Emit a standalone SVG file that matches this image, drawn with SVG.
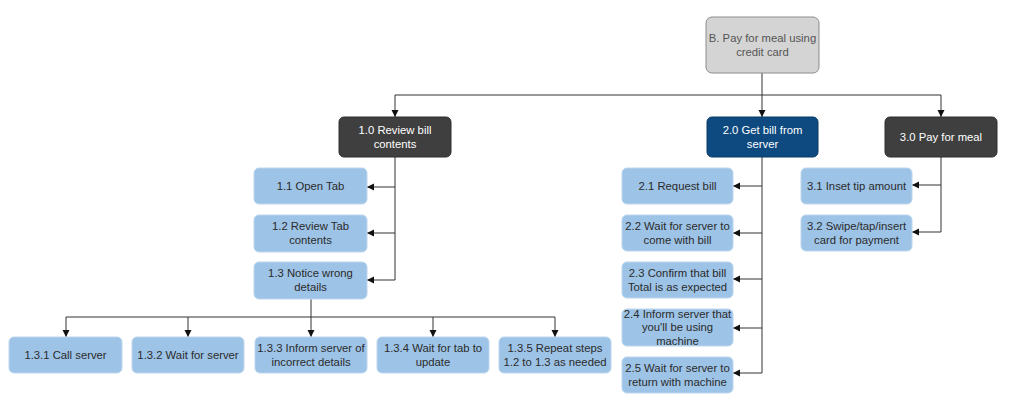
<svg xmlns="http://www.w3.org/2000/svg" width="1010" height="410" viewBox="0 0 1010 410">
<defs>
<marker id="arr" markerUnits="userSpaceOnUse" markerWidth="8" markerHeight="8" refX="7" refY="3.5" orient="auto">
<path d="M0,0 L7,3.5 L0,7 z" fill="#111"/>
</marker>
<style>
text{font-family:"Liberation Sans",Arial,sans-serif;font-size:11.3px;text-anchor:middle}
.lb rect{fill:#9dc3e6;stroke:#bcd6ee;stroke-width:1}
.lb text{fill:#2b2b2b}
.dk rect{fill:#3f3f3f;stroke:#2e2e2e;stroke-width:1}
.bl rect{fill:#0e4a80;stroke:#0a3a66;stroke-width:1}
.dk text,.bl text{fill:#fff}
.rt rect{fill:#d4d4d4;stroke:#8c8c8c;stroke-width:1}
.rt text{fill:#555}
#connectors path{fill:none;stroke:#333;stroke-width:1}
</style>
</defs>
<rect width="1010" height="410" fill="#fff"/>
<g id="connectors">
<path d="M762,73 V117" marker-end="url(#arr)"/>
<path d="M762,95 H395 V117" marker-end="url(#arr)"/>
<path d="M762,95 H941 V117" marker-end="url(#arr)"/>
<path d="M395,157 V280 H367" marker-end="url(#arr)"/>
<path d="M395,187 H367" marker-end="url(#arr)"/>
<path d="M395,233 H367" marker-end="url(#arr)"/>
<path d="M311,299 V317"/>
<path d="M66,317 H555"/>
<path d="M66,317 V337" marker-end="url(#arr)"/>
<path d="M188,317 V337" marker-end="url(#arr)"/>
<path d="M311,317 V337" marker-end="url(#arr)"/>
<path d="M433,317 V337" marker-end="url(#arr)"/>
<path d="M555,317 V337" marker-end="url(#arr)"/>
<path d="M762,157 V373 H733" marker-end="url(#arr)"/>
<path d="M762,186 H733" marker-end="url(#arr)"/>
<path d="M762,233 H733" marker-end="url(#arr)"/>
<path d="M762,279 H733" marker-end="url(#arr)"/>
<path d="M762,328 H733" marker-end="url(#arr)"/>
<path d="M941,157 V232 H912" marker-end="url(#arr)"/>
<path d="M941,185 H912" marker-end="url(#arr)"/>
</g>
<g id="root" class="rt"><rect x="706" y="17" width="113" height="56" rx="6"/><text x="762.5" y="42">B. Pay for meal using</text><text x="762.5" y="56">credit card</text></g>
<g id="n1" class="dk"><rect x="339" y="117" width="112" height="40" rx="5"/><text x="395" y="134">1.0 Review bill</text><text x="395" y="148">contents</text></g>
<g id="n2" class="bl"><rect x="707" y="117" width="111" height="40" rx="5"/><text x="762.5" y="134">2.0 Get bill from</text><text x="762.5" y="148">server</text></g>
<g id="n3" class="dk"><rect x="885" y="117" width="112" height="40" rx="5"/><text x="941" y="141">3.0 Pay for meal</text></g>
<g id="n1_1" class="lb"><rect x="254" y="168" width="113" height="36" rx="5"/><text x="310.5" y="190">1.1 Open Tab</text></g>
<g id="n1_2" class="lb"><rect x="254" y="215" width="113" height="37" rx="5"/><text x="310.5" y="230">1.2 Review Tab</text><text x="310.5" y="244">contents</text></g>
<g id="n1_3" class="lb"><rect x="254" y="262" width="113" height="37" rx="5"/><text x="310.5" y="277">1.3 Notice wrong</text><text x="310.5" y="291">details</text></g>
<g id="n1_3_1" class="lb"><rect x="9" y="337" width="113" height="36" rx="5"/><text x="65.5" y="359">1.3.1 Call server</text></g>
<g id="n1_3_2" class="lb"><rect x="132" y="337" width="112" height="36" rx="5"/><text x="188" y="359">1.3.2 Wait for server</text></g>
<g id="n1_3_3" class="lb"><rect x="255" y="337" width="112" height="36" rx="5"/><text x="311" y="352">1.3.3 Inform server of</text><text x="311" y="366">incorrect details</text></g>
<g id="n1_3_4" class="lb"><rect x="377" y="337" width="112" height="36" rx="5"/><text x="433" y="352">1.3.4 Wait for tab to</text><text x="433" y="366">update</text></g>
<g id="n1_3_5" class="lb"><rect x="499" y="337" width="112" height="36" rx="5"/><text x="555" y="352">1.3.5 Repeat steps</text><text x="555" y="366">1.2 to 1.3 as needed</text></g>
<g id="n2_1" class="lb"><rect x="622" y="168" width="111" height="36" rx="5"/><text x="677.5" y="190">2.1 Request bill</text></g>
<g id="n2_2" class="lb"><rect x="622" y="215" width="111" height="36" rx="5"/><text x="677.5" y="230">2.2 Wait for server to</text><text x="677.5" y="244">come with bill</text></g>
<g id="n2_3" class="lb"><rect x="622" y="262" width="111" height="36" rx="5"/><text x="677.5" y="277">2.3 Confirm that bill</text><text x="677.5" y="291">Total is as expected</text></g>
<g id="n2_4" class="lb"><rect x="622" y="309" width="111" height="37" rx="5"/><text x="677.5" y="318">2.4 Inform server that</text><text x="677.5" y="331">you'll be using</text><text x="677.5" y="345">machine</text></g>
<g id="n2_5" class="lb"><rect x="622" y="357" width="111" height="36" rx="5"/><text x="677.5" y="372">2.5 Wait for server to</text><text x="677.5" y="386">return with machine</text></g>
<g id="n3_1" class="lb"><rect x="801" y="168" width="111" height="36" rx="5"/><text x="856.5" y="190">3.1 Inset tip amount</text></g>
<g id="n3_2" class="lb"><rect x="801" y="215" width="111" height="36" rx="5"/><text x="856.5" y="230">3.2 Swipe/tap/insert</text><text x="856.5" y="244">card for payment</text></g>
</svg>
